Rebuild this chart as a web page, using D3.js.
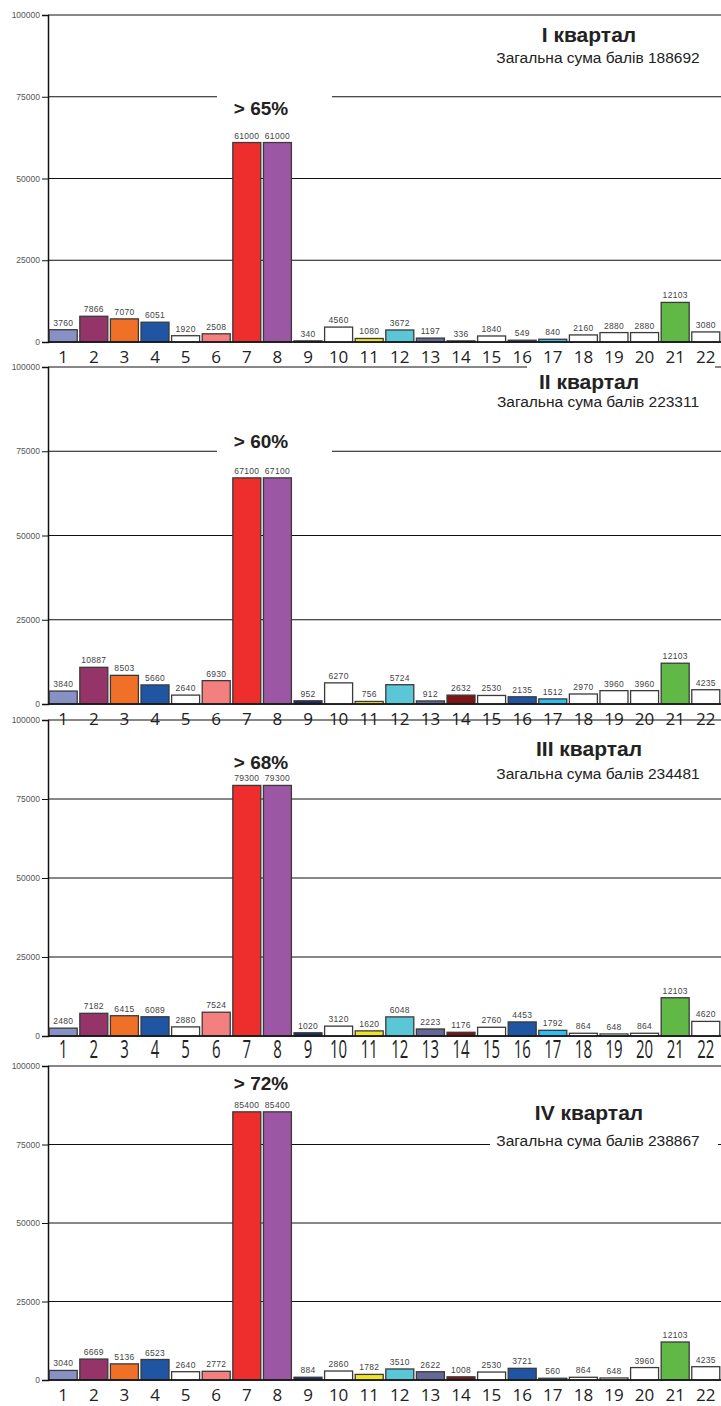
<!DOCTYPE html>
<html>
<head>
<meta charset="utf-8">
<script src="https://cdnjs.cloudflare.com/ajax/libs/d3/7.8.5/d3.min.js"></script>
<style>
  html, body { margin: 0; padding: 0; background: #fff; }
  svg { display: block; }
</style>
</head>
<body>
<svg id="chart" width="721" height="1406"></svg>
<script>
// Categories (participant numbers)
const categories = d3.range(1, 23).map(String);

// Quarterly scores
const q1Values = [3760, 7866, 7070, 6051, 1920, 2508, 61000, 61000, 340, 4560, 1080, 3672, 1197, 336, 1840, 549, 840, 2160, 2880, 2880, 12103, 3080];
const q2Values = [3840, 10887, 8503, 5660, 2640, 6930, 67100, 67100, 952, 6270, 756, 5724, 912, 2632, 2530, 2135, 1512, 2970, 3960, 3960, 12103, 4235];
const q3Values = [2480, 7182, 6415, 6089, 2880, 7524, 79300, 79300, 1020, 3120, 1620, 6048, 2223, 1176, 2760, 4453, 1792, 864, 648, 864, 12103, 4620];
const q4Values = [3040, 6669, 5136, 6523, 2640, 2772, 85400, 85400, 884, 2860, 1782, 3510, 2622, 1008, 2530, 3721, 560, 864, 648, 3960, 12103, 4235];

// Panel titles, totals and share labels
const quarterTitles = ["I квартал", "II квартал", "III квартал", "IV квартал"];
const quarterTotals = [188692, 223311, 234481, 238867];
const shareLabels = ["> 65%", "> 60%", "> 68%", "> 72%"];

// Y axis ticks
const yTicks = [0, 25000, 50000, 75000, 100000];

// Fill colour per category
const barColors = [
  "#8891c6", "#943469", "#f07028", "#1f55a3", "#ffffff", "#f47f7f",
  "#ee2d2d", "#9b57a3", "#1c2c6b", "#ffffff", "#f0e520", "#5bc6d6",
  "#636897", "#7b1416", "#ffffff", "#1f55a3", "#2ebfef", "#ffffff",
  "#ffffff", "#ffffff", "#62b846", "#ffffff"
];

const series = [q1Values, q2Values, q3Values, q4Values];

// Vertical layout of each panel: y of 100000, y of 0, title / subtitle / share baselines
const panels = [
  { top: 15, bottom: 342, titleY: 42, subY: 63, shareY: 115, narrowTicks: false },
  { top: 367, bottom: 704, titleY: 389, subY: 407, shareY: 448, narrowTicks: false },
  { top: 720, bottom: 1036, titleY: 756, subY: 779, shareY: 769, narrowTicks: true },
  { top: 1066, bottom: 1380, titleY: 1120, subY: 1146, shareY: 1090, narrowTicks: false }
];

const svg = d3.select("#chart");
const axisX = 48;
const rightX = 721;
const sans = "Liberation Sans, Arial, sans-serif";

const x = d3.scaleBand()
  .domain(categories)
  .range([axisX, rightX])
  .paddingInner(0.085)
  .paddingOuter(0.04);

panels.forEach((p, i) => {
  const values = series[i];
  const g = svg.append("g");
  const y = d3.scaleLinear().domain([0, 100000]).range([p.bottom, p.top]);

  // Horizontal grid lines
  g.append("g")
    .selectAll("line")
    .data(yTicks)
    .join("line")
    .attr("x1", axisX)
    .attr("x2", rightX)
    .attr("y1", d => y(d))
    .attr("y2", d => y(d))
    .attr("stroke", "#111")
    .attr("stroke-width", 1);

  // White backdrops behind the title, the total and the share label
  g.append("rect")
    .attr("x", 527).attr("y", p.titleY - 23)
    .attr("width", 188).attr("height", 28)
    .attr("fill", "#fff");
  g.append("rect")
    .attr("x", 490).attr("y", p.subY - 15)
    .attr("width", 228).attr("height", 20)
    .attr("fill", "#fff");
  g.append("rect")
    .attr("x", 217).attr("y", p.shareY - 20)
    .attr("width", 115).attr("height", 25)
    .attr("fill", "#fff");

  // Y axis
  const yAxis = g.append("g")
    .attr("transform", `translate(${axisX},0)`)
    .call(d3.axisLeft(y).tickValues(yTicks).tickSize(6).tickPadding(2).tickFormat(d3.format("d")));
  yAxis.select(".domain").attr("stroke", "#111").attr("stroke-width", 1.5);
  yAxis.selectAll(".tick line").attr("stroke", "#111");
  yAxis.selectAll(".tick text")
    .attr("fill", "#555")
    .style("font-family", sans)
    .style("font-size", "8.5px");

  // Bars
  g.append("g")
    .selectAll("rect")
    .data(values)
    .join("rect")
    .attr("x", (d, j) => x(categories[j]))
    .attr("y", d => y(d))
    .attr("width", x.bandwidth())
    .attr("height", d => y(0) - y(d))
    .attr("fill", (d, j) => barColors[j])
    .attr("stroke", "#3a3a3a")
    .attr("stroke-width", 1.3);

  // Value labels
  g.append("g")
    .selectAll("text")
    .data(values)
    .join("text")
    .attr("x", (d, j) => x(categories[j]) + x.bandwidth() / 2)
    .attr("y", d => y(d) - 4)
    .attr("text-anchor", "middle")
    .attr("fill", "#444")
    .style("font-family", sans)
    .style("font-size", "8.5px")
    .style("letter-spacing", "0.3px")
    .text(d => d);

  // Baseline
  g.append("line")
    .attr("x1", axisX).attr("x2", rightX)
    .attr("y1", y(0)).attr("y2", y(0))
    .attr("stroke", "#111").attr("stroke-width", 1.3);

  // Category labels
  const xAxis = g.append("g")
    .attr("transform", `translate(0,${p.bottom})`)
    .call(d3.axisBottom(x).tickSize(0).tickPadding(p.narrowTicks ? 3 : 9));
  xAxis.select(".domain").remove();
  xAxis.selectAll(".tick text")
    .attr("fill", "#222")
    .attr("transform", p.narrowTicks ? "scale(0.88,1.45)" : null)
    .style("font-family", "Open Sans, Noto Sans, sans-serif")
    .style("font-size", "17px");

  // Title and total
  g.append("text")
    .attr("x", 589).attr("y", p.titleY)
    .attr("text-anchor", "middle")
    .attr("fill", "#222")
    .style("font-family", sans)
    .style("font-weight", "bold")
    .style("font-size", "21px")
    .text(quarterTitles[i]);
  g.append("text")
    .attr("x", 598).attr("y", p.subY)
    .attr("text-anchor", "middle")
    .attr("fill", "#222")
    .style("font-family", sans)
    .style("font-size", "15.5px")
    .text("Загальна сума балів " + quarterTotals[i]);

  // Share label
  g.append("text")
    .attr("x", 261).attr("y", p.shareY)
    .attr("text-anchor", "middle")
    .attr("fill", "#222")
    .style("font-family", sans)
    .style("font-weight", "bold")
    .style("font-size", "19px")
    .text(shareLabels[i]);
});
</script>
</body>
</html>
